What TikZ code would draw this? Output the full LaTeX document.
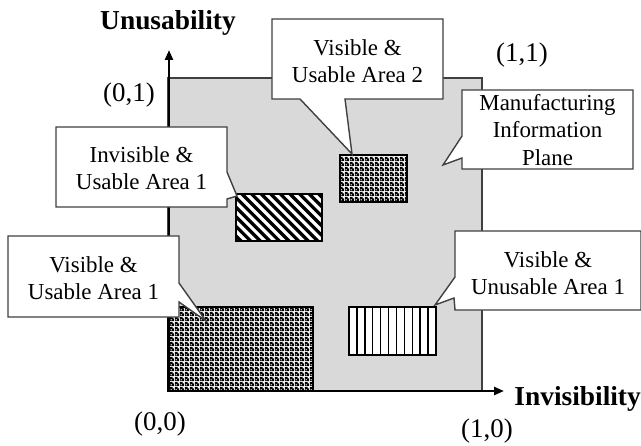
\documentclass[tikz,border=0pt]{standalone}
\usepackage{fontspec}
\setmainfont{Liberation Serif}
\usetikzlibrary{arrows.meta,patterns}

% dense black checker with small white holes
\pgfdeclarepatternformonly{densechk}{\pgfpoint{0bp}{0bp}}{\pgfpoint{5bp}{5bp}}{\pgfpoint{5bp}{5bp}}{%
  \pgfseteorule
  \pgfpathrectangle{\pgfpoint{0bp}{0bp}}{\pgfpoint{5bp}{5bp}}%
  \pgfpathrectangle{\pgfpoint{0.7bp}{0.7bp}}{\pgfpoint{1.6bp}{1.6bp}}%
  \pgfpathrectangle{\pgfpoint{3.2bp}{3.2bp}}{\pgfpoint{1.6bp}{1.6bp}}%
  \pgfusepath{fill}}

\tikzset{
  plane/.style={fill=black!15, draw=black!75, line width=1.2bp},
  axis/.style={line width=2.4bp, -{Triangle[length=10bp,width=8bp]}},
  callout/.style={fill=white, draw=black!75, line width=1.4bp, line join=miter},
  txt/.style={font=\fontsize{23}{27.5}\selectfont, align=center, inner sep=0pt},
  axlabel/.style={font=\fontsize{27.5}{32}\selectfont\bfseries, inner sep=0pt},
  coord/.style={font=\fontsize{27}{32}\selectfont, inner sep=0pt},
  areabox/.style={draw=black, line width=1.2bp},
}

\begin{document}
\begin{tikzpicture}[x=1bp, y=-1bp]
\useasboundingbox (0,0) rectangle (641,446);

% information plane
\draw[plane] (168,78) rectangle (482,391);

% visible & usable area 1 (checker)
\fill[white] (168,307) rectangle (313,391);
\fill[pattern=densechk, pattern color=black] (168,307) rectangle (313,391);
\draw[areabox] (168,307) rectangle (313,391);

% visible & usable area 2 (checker)
\fill[white] (340,155) rectangle (407,202);
\fill[pattern=densechk, pattern color=black] (340,155) rectangle (407,202);
\draw[areabox] (340,155) rectangle (407,202);

% invisible & usable area 1 (diagonal stripes)
\fill[white] (236,194) rectangle (322,241);
\begin{scope}
  \clip (236,194) rectangle (322,241);
  \foreach \k in {0,...,14} {
    \draw[line width=3.3bp] ({190+\k*9.6},190) -- ({190+\k*9.6+55},245);
  }
\end{scope}
\draw[areabox] (236,194) rectangle (322,241);

% visible & unusable area 1 (vertical stripes)
\fill[white] (349,307) rectangle (436,355);
\foreach \k in {1,...,10} {
  \draw[line width=1.4bp] ({349+\k*7.9},307) -- ({349+\k*7.9},355);
}
\draw[areabox] (349,307) rectangle (436,355);

% axes
\coordinate (o) at (169,391);
\coordinate (ytip) at (169,50);
\coordinate (xtip) at (504,391);
\draw[axis] (o) -- (ytip);
\draw[axis] (o) -- (xtip);

\node[axlabel] (ulab) at (168,23) {Unusability};
\node[axlabel, anchor=east] (ilab) at (641,399) {Invisibility};

\node[coord] (c01) at (129,95) {(0,1)};
\node[coord] (c11) at (522,55) {(1,1)};
\node[coord] (c00) at (160,424) {(0,0)};
\node[coord] (c10) at (487,431) {(1,0)};

% callouts
\draw[callout] (272,19) -- (443,19) -- (443,99) -- (345,99) -- (352,154) -- (300,99) -- (272,99) -- cycle;
\node[txt] (va2) at (357.5,61) {Visible \&\\Usable Area 2};

\draw[callout] (462,90) -- (633,90) -- (633,169) -- (462,169) -- (462,158) -- (443,165) -- (462,136) -- cycle;
\node[txt] (mip) at (547.5,130) {Manufacturing\\Information\\Plane};

\draw[callout] (56,127) -- (227,127) -- (227,172) -- (237,196) -- (227,199) -- (227,207) -- (56,207) -- cycle;
\node[txt] (iu1) at (141.5,168) {Invisible \&\\Usable Area 1};

\draw[callout] (8,236) -- (179,236) -- (179,283) -- (206,321) -- (179,302) -- (179,317) -- (8,317) -- cycle;
\node[txt] (vu1) at (93.5,278) {Visible \&\\Usable Area 1};

\draw[callout] (455,231) -- (641,231) -- (641,310) -- (455,310) -- (454,298) -- (435,305) -- (455,277) -- cycle;
\node[txt] (vun1) at (548,273) {Visible \&\\Unusable Area 1};

\end{tikzpicture}
\end{document}
